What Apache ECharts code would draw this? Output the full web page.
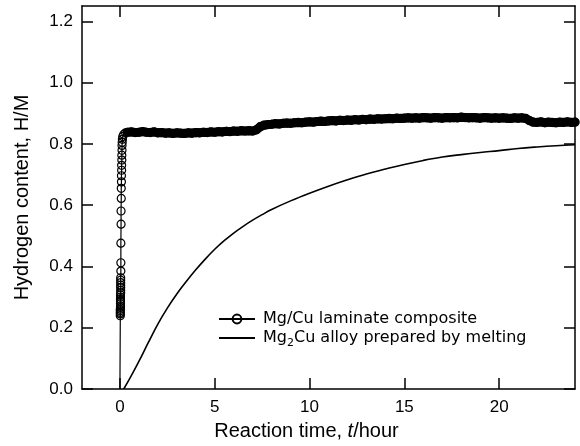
<!DOCTYPE html>
<html>
<head>
<meta charset="utf-8">
<script src="https://cdn.jsdelivr.net/npm/echarts@6/dist/echarts.min.js"></script>
<style>
  html, body { margin: 0; padding: 0; background: #fff; }
  #chart { width: 580px; height: 446px; }
</style>
</head>
<body>
<div id="chart"></div>
<script>
const seriesNames = ['Mg/Cu laminate composite', 'Mg2Cu alloy prepared by melting'];
const xTicks = [0, 5, 10, 15, 20];
const yTicks = [0, 0.2, 0.4, 0.6, 0.8, 1.0, 1.2];

// Mg/Cu laminate: fast initial absorption (t in hours, H/M)
const laminateRise = [
  [0, 0], [0.02, 0.239], [0.02, 0.245], [0.02, 0.250], [0.02, 0.255], [0.02, 0.260],
  [0.03, 0.266], [0.03, 0.271], [0.03, 0.279], [0.03, 0.287], [0.03, 0.293], [0.03, 0.300],
  [0.03, 0.307], [0.04, 0.314], [0.04, 0.322], [0.04, 0.331], [0.04, 0.339], [0.04, 0.347],
  [0.04, 0.355], [0.04, 0.363], [0.05, 0.385], [0.05, 0.412], [0.05, 0.476], [0.06, 0.538],
  [0.06, 0.581], [0.07, 0.622], [0.07, 0.655], [0.08, 0.676], [0.08, 0.696], [0.09, 0.714],
  [0.09, 0.730], [0.10, 0.747], [0.10, 0.763], [0.11, 0.779], [0.11, 0.795], [0.12, 0.805],
  [0.13, 0.815], [0.15, 0.824], [0.2, 0.831], [0.3, 0.836]
];

// Mg/Cu laminate: plateau
const laminatePlateau = [
  [0.4, 0.838], [0.6, 0.839], [0.8, 0.837], [1.0, 0.838], [1.2, 0.840], [1.4, 0.838],
  [1.6, 0.837], [1.8, 0.839], [2.0, 0.836], [2.2, 0.837], [2.4, 0.835], [2.6, 0.836],
  [2.8, 0.834], [3.0, 0.836], [3.2, 0.835], [3.4, 0.834], [3.6, 0.836], [3.8, 0.835],
  [4.0, 0.837], [4.2, 0.836], [4.4, 0.838], [4.6, 0.837], [4.8, 0.839], [5.0, 0.838],
  [5.2, 0.840], [5.4, 0.839], [5.6, 0.841], [5.8, 0.840], [6.0, 0.842], [6.2, 0.841],
  [6.4, 0.843], [6.6, 0.842], [6.8, 0.843], [7.0, 0.842], [7.2, 0.846], [7.4, 0.856],
  [7.6, 0.861], [7.8, 0.863], [8.0, 0.864], [8.2, 0.866], [8.4, 0.865], [8.6, 0.867],
  [8.8, 0.868], [9.0, 0.867], [9.2, 0.869], [9.4, 0.870], [9.6, 0.869], [9.8, 0.871],
  [10.0, 0.872], [10.2, 0.871], [10.4, 0.873], [10.6, 0.874], [10.8, 0.873], [11.0, 0.875],
  [11.2, 0.876], [11.4, 0.875], [11.6, 0.877], [11.8, 0.876], [12.0, 0.878], [12.2, 0.877],
  [12.4, 0.879], [12.6, 0.878], [12.8, 0.880], [13.0, 0.879], [13.2, 0.881], [13.4, 0.880],
  [13.6, 0.882], [13.8, 0.881], [14.0, 0.882], [14.2, 0.883], [14.4, 0.882], [14.6, 0.884],
  [14.8, 0.883], [15.0, 0.884], [15.2, 0.885], [15.4, 0.884], [15.6, 0.885], [15.8, 0.884],
  [16.0, 0.886], [16.2, 0.885], [16.4, 0.884], [16.6, 0.886], [16.8, 0.885], [17.0, 0.884],
  [17.2, 0.886], [17.4, 0.885], [17.6, 0.886], [17.8, 0.885], [18.0, 0.887], [18.2, 0.886],
  [18.4, 0.885], [18.6, 0.886], [18.8, 0.885], [19.0, 0.884], [19.2, 0.886], [19.4, 0.885],
  [19.6, 0.884], [19.8, 0.885], [20.0, 0.884], [20.2, 0.885], [20.4, 0.884], [20.6, 0.883],
  [20.8, 0.885], [21.0, 0.884], [21.2, 0.885], [21.4, 0.883], [21.6, 0.876], [21.8, 0.871],
  [22.0, 0.870], [22.2, 0.872], [22.4, 0.869], [22.6, 0.871], [22.8, 0.870], [23.0, 0.869],
  [23.2, 0.871], [23.4, 0.870], [23.6, 0.872], [23.8, 0.870], [24.0, 0.871]
];

// Mg2Cu alloy prepared by melting
const meltedAlloy = [
  [0.2, 0], [0.5, 0.032], [1.0, 0.090], [1.5, 0.152], [2.0, 0.212], [2.5, 0.264],
  [3.0, 0.310], [3.5, 0.351], [4.0, 0.389], [4.5, 0.424], [5.0, 0.456], [5.5, 0.484],
  [6.0, 0.509], [6.5, 0.531], [7.0, 0.551], [7.5, 0.569], [8.0, 0.586], [9.0, 0.614],
  [10.0, 0.639], [11.0, 0.662], [12.0, 0.683], [13.0, 0.702], [14.0, 0.718], [15.0, 0.733],
  [16.0, 0.746], [17.0, 0.757], [18.0, 0.765], [19.0, 0.772], [20.0, 0.778], [21.0, 0.785],
  [22.0, 0.790], [23.0, 0.794], [24.0, 0.797]
];

const chart = echarts.init(document.getElementById('chart'), null, { renderer: 'canvas' });

const axisFont = 'Liberation Sans, Arial, sans-serif';
const legendFont = 'DejaVu Sans, sans-serif';
const frameLine = { show: true, onZero: false, lineStyle: { color: '#000', width: 1.5 } };
const innerTick = (vals) => ({
  show: true, inside: true, length: 11, customValues: vals,
  lineStyle: { color: '#000', width: 1.5 }
});

const laminateData = laminateRise.map((p, i) =>
  i === 0 ? { value: p, symbol: 'none' } : p
).concat(laminatePlateau);

const option = {
  animation: false,
  backgroundColor: '#fff',
  grid: { left: 82, right: 5, top: 6, bottom: 54 },
  legend: {
    data: [
      { name: seriesNames[0] },
      { name: seriesNames[1], itemStyle: { color: 'rgba(0,0,0,0)', borderWidth: 0 } }
    ],
    orient: 'vertical',
    left: 213,
    top: 306,
    itemWidth: 36,
    itemHeight: 11,
    itemGap: 3,
    selectedMode: false,
    textStyle: {
      color: '#000',
      fontFamily: legendFont,
      fontSize: 16,
      padding: [0, 0, 0, 3],
      rich: {
        n: { fontSize: 16, fontFamily: legendFont, color: '#000', lineHeight: 18 },
        s: { fontSize: 11, fontFamily: legendFont, color: '#000', verticalAlign: 'bottom', lineHeight: 22 }
      }
    },
    formatter: (name) => name === seriesNames[1]
      ? '{n|Mg}{s|2}{n|Cu alloy prepared by melting}'
      : '{n|' + name + '}'
  },
  xAxis: [
    {
      type: 'value', min: -2, max: 24,
      name: '{n|Reaction time, }{i|t}{n|/hour}',
      nameLocation: 'middle',
      nameGap: 32,
      nameMoveOverlap: false,
      nameTextStyle: {
        padding: [0, 44, 0, 0],
        rich: {
          n: { fontSize: 20, fontFamily: axisFont, color: '#000' },
          i: { fontSize: 20, fontFamily: axisFont, color: '#000', fontStyle: 'italic' }
        }
      },
      axisLine: frameLine,
      axisTick: innerTick(xTicks),
      axisLabel: { customValues: xTicks, margin: 10, color: '#000', fontSize: 17, fontFamily: axisFont },
      splitLine: { show: false }
    },
    {
      type: 'value', min: -2, max: 24, position: 'top',
      axisLine: frameLine,
      axisTick: innerTick(xTicks),
      axisLabel: { show: false },
      splitLine: { show: false }
    }
  ],
  yAxis: [
    {
      type: 'value', min: 0, max: 1.25,
      name: 'Hydrogen content, H/M',
      nameLocation: 'middle',
      nameGap: 50,
      nameTextStyle: { fontSize: 20, fontFamily: axisFont, color: '#000' },
      axisLine: frameLine,
      axisTick: innerTick(yTicks),
      axisLabel: {
        customValues: yTicks, margin: 9, color: '#000', fontSize: 17, fontFamily: axisFont,
        formatter: (v) => v.toFixed(1)
      },
      splitLine: { show: false }
    },
    {
      type: 'value', min: 0, max: 1.25, position: 'right',
      axisLine: frameLine,
      axisTick: innerTick(yTicks),
      axisLabel: { show: false },
      splitLine: { show: false }
    }
  ],
  series: [
    {
      name: seriesNames[1],
      type: 'line',
      data: meltedAlloy,
      smooth: 0.4,
      symbol: 'none',
      lineStyle: { color: '#000', width: 1.6 },
      itemStyle: { color: '#000' }
    },
    {
      name: 'plateau-fill',
      type: 'line',
      data: laminatePlateau,
      symbol: 'none',
      silent: true,
      lineStyle: { color: '#000', width: 9, cap: 'round', join: 'round' }
    },
    {
      name: seriesNames[0],
      type: 'line',
      data: laminateData,
      symbol: 'circle',
      symbolSize: 8,
      showAllSymbol: true,
      lineStyle: { color: '#000', width: 1.2 },
      itemStyle: { color: 'rgba(255,255,255,0)', borderColor: '#000', borderWidth: 1.2 }
    }
  ]
};

chart.setOption(option);
</script>
</body>
</html>
